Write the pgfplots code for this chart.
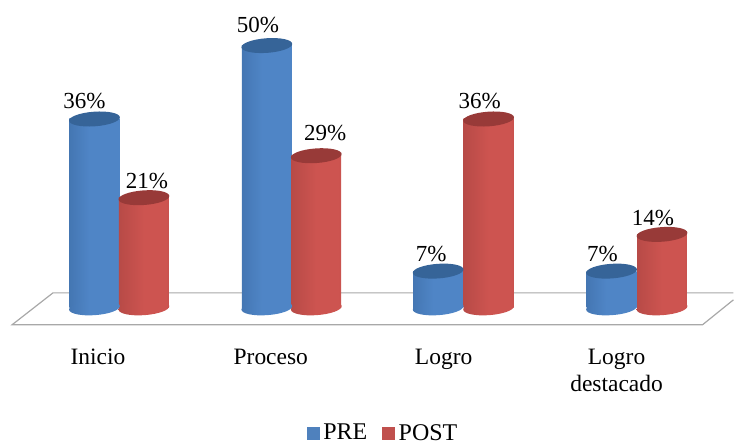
\documentclass[border=0pt]{standalone}
\usepackage{pgfplots}
\usepackage{pgfplotstable}
\usepackage{fontspec}
\setmainfont{Liberation Serif}
\pgfplotsset{compat=1.18}

\definecolor{bluemid}{HTML}{4F85C6}
\definecolor{blueedge}{HTML}{37659C}
\definecolor{bluecap}{HTML}{366498}
\definecolor{redmid}{HTML}{CD5450}
\definecolor{rededge}{HTML}{9E3F3C}
\definecolor{redcap}{HTML}{983A38}
\definecolor{floorline}{HTML}{A8A8A8}
\definecolor{legendblue}{HTML}{4F81BD}
\definecolor{legendred}{HTML}{C0504D}

% Cylinder bodies: dark at the rim, bright towards the middle
\pgfdeclarehorizontalshading{bluecyl}{100bp}{color(0bp)=(blueedge); color(12bp)=(blueedge!75!bluemid); color(45bp)=(bluemid); color(75bp)=(bluemid); color(100bp)=(blueedge)}
\pgfdeclarehorizontalshading{redcyl}{100bp}{color(0bp)=(rededge); color(12bp)=(rededge!70!redmid); color(50bp)=(redmid); color(72bp)=(redmid); color(100bp)=(rededge)}

% Tilted ellipse closing a cylinder
\newcommand{\cylinderend}{\pgfpathellipse{\pgfpointorigin}{\pgfqpoint{25.4pt}{1.8pt}}{\pgfqpoint{-0.5pt}{7.3pt}}}
\pgfdeclareplotmark{bluecap}{\cylinderend\pgfsetfillcolor{bluecap}\pgfusepathqfill}
\pgfdeclareplotmark{redcap}{\cylinderend\pgfsetfillcolor{redcap}\pgfusepathqfill}
\pgfdeclareplotmark{bluebase}{\cylinderend\pgfshadepath{bluecyl}{0}\pgfusepath{discard}}
\pgfdeclareplotmark{redbase}{\cylinderend\pgfshadepath{redcyl}{0}\pgfusepath{discard}}

\pgfplotstableread{
x      y   zero dx  dy
-0.020 36  0    -10 18
0.977  50  0    -9  20.5
1.968  7   0    -7  17.25
2.971  7   0    -9  17.25
}\pretable
\pgfplotstableread{
x      y   zero dx  dy
0.266  21  0    3   16.75
1.263  29  0    9   22.75
2.260  36  0    -9  18
3.263  14  0    -9  16.5
}\posttable

\begin{document}
\begin{tikzpicture}
\begin{axis}[
  scale only axis,
  width=734pt, height=445pt,
  xmin=-0.5665, xmax=3.676,
  ymin=-26.095, ymax=58.667,
  clip=false,
  axis line style={draw=none},
  major tick length=0pt,
  ytick=\empty,
  xtick={0,1,2,3},
  xticklabels={Inicio,Proceso,Logro,{Logro\\destacado}},
  xticklabel style={align=center, anchor=north, yshift=99pt,
    font=\fontsize{23.5}{27}\selectfont},
  legend style={draw=none, fill=none, at={(0.5238,0.005)}, anchor=south,
    legend columns=2, inner sep=0pt, outer sep=0pt,
    font=\fontsize{24}{25}\selectfont,
    /tikz/every even column/.append style={column sep=11pt},
    nodes={inner sep=1pt, inner xsep=4pt}},
  /pgf/number format/assume math mode=true,
  nodes near coords={\pgfmathprintnumber[precision=0]{\pgfplotspointmeta}\%},
  every node near coord/.append style={font=\fontsize{23}{24}\selectfont,
    anchor=center, inner sep=0pt},
  prebar/.style={forget plot, ybar, bar width=50pt, bar shift=0pt, draw=none,
    shade, shading=bluecyl, nodes near coords={}},
  postbar/.style={forget plot, ybar, bar width=50pt, bar shift=0pt, draw=none,
    shade, shading=redcyl, nodes near coords={}},
]
% Floor of the chart
\addplot[forget plot, floorline, line width=1.2pt, no marks, nodes near coords={}] coordinates {
  (3.676,2.857) (-0.26,2.857) (-0.497,-3.238) (3.497,-3.238) (3.676,1.524)
};

% PRE series: one plot per bar so that each cylinder gets its own shading
\addplot[forget plot, only marks, mark=bluebase, nodes near coords={}] table[x=x,y=zero] {\pretable};
\addplot[prebar] coordinates {(-0.020,36)};
\addplot[prebar] coordinates {(0.977,50)};
\addplot[prebar] coordinates {(1.968,7)};
\addplot[prebar] coordinates {(2.971,7)};
\addplot[forget plot, only marks, mark=bluecap,
  visualization depends on={\thisrow{dx}\as\dxval},
  visualization depends on={\thisrow{dy}\as\dyval},
  every node near coord/.append style={xshift=\dxval pt, yshift=\dyval pt}]
  table[x=x,y=y] {\pretable};

% POST series
\addplot[forget plot, only marks, mark=redbase, nodes near coords={}] table[x=x,y=zero] {\posttable};
\addplot[postbar] coordinates {(0.266,21)};
\addplot[postbar] coordinates {(1.263,29)};
\addplot[postbar] coordinates {(2.260,36)};
\addplot[postbar] coordinates {(3.263,14)};
\addplot[forget plot, only marks, mark=redcap,
  visualization depends on={\thisrow{dx}\as\dxval},
  visualization depends on={\thisrow{dy}\as\dyval},
  every node near coord/.append style={xshift=\dxval pt, yshift=\dyval pt}]
  table[x=x,y=y] {\posttable};

% Legend keys
\addlegendimage{legend image code/.code={\fill[legendblue] (0pt,-6pt) rectangle (12pt,6pt);}}
\addlegendentry{PRE}
\addlegendimage{legend image code/.code={\fill[legendred] (0pt,-6pt) rectangle (12pt,6pt);}}
\addlegendentry{POST}
\end{axis}
\end{tikzpicture}
\end{document}
